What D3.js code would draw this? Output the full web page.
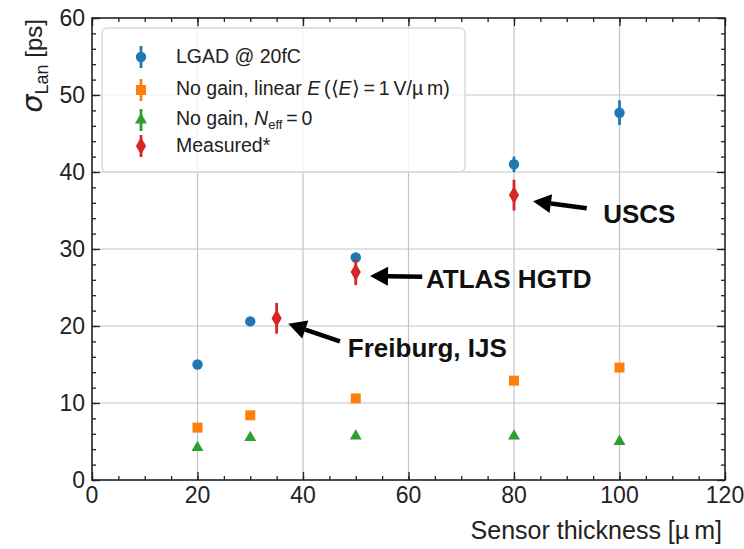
<!DOCTYPE html>
<html>
<head>
<meta charset="utf-8">
<script src="https://cdn.jsdelivr.net/npm/d3@7"></script>
<style>
  body { margin: 0; background: #fff; }
  svg { font-family: "Liberation Sans", Arial, sans-serif; }
</style>
</head>
<body>
<div id="app"></div>
<script>
// sensor thickness [um] and sigma_Lan [ps]
var lgadX = [20, 30, 50, 80, 100];
var lgadY = [15.0, 20.6, 28.9, 41.0, 47.7];
var lgadErr = [0.3, 0.4, 0.6, 1.0, 1.6];

var linearX = [20, 30, 50, 80, 100];
var linearY = [6.8, 8.4, 10.6, 12.9, 14.6];

var neffX = [20, 30, 50, 80, 100];
var neffY = [4.2, 5.5, 5.7, 5.7, 5.0];

var measX = [35, 50, 80];
var measY = [21.0, 27.0, 37.0];
var measErr = [2.0, 1.7, 2.0];

var xTicks = [0, 20, 40, 60, 80, 100, 120];
var yTicks = [0, 10, 20, 30, 40, 50, 60];

var notes = [
    { text: 'USCS', tx: 96.9, ty: 33.4, x0: 93.8, y0: 35.3, x1: 83.6, y1: 36.2 },
    { text: 'ATLAS HGTD', tx: 63.3, ty: 25.0, x0: 62.6, y0: 26.4, x1: 52.7, y1: 26.5 },
    { text: 'Freiburg, IJS', tx: 48.5, ty: 16.0, x0: 47.0, y0: 18.0, x1: 37.2, y1: 20.3 }
];

var colors = { blue: '#1f77b4', orange: '#ff7f0e', green: '#2ca02c', red: '#d62728' };

var W = 744, H = 549;
var pLeft = 92, pRight = 725, pTop = 18, pBottom = 480;

var x = d3.scaleLinear().domain([0, 120]).range([pLeft, pRight]);
var y = d3.scaleLinear().domain([0, 60]).range([pBottom, pTop]);

var svg = d3.select('#app').append('svg')
    .attr('width', W)
    .attr('height', H);

// grid
svg.append('g').selectAll('line')
    .data(xTicks.slice(1, -1)).enter().append('line')
    .attr('x1', function(d) { return x(d); }).attr('x2', function(d) { return x(d); })
    .attr('y1', pTop).attr('y2', pBottom)
    .attr('stroke', '#c4c4c4').attr('stroke-width', 1.2);
svg.append('g').selectAll('line')
    .data(yTicks.slice(1, -1)).enter().append('line')
    .attr('y1', function(d) { return y(d); }).attr('y2', function(d) { return y(d); })
    .attr('x1', pLeft).attr('x2', pRight)
    .attr('stroke', '#c4c4c4').attr('stroke-width', 1.2);

// axes with inward ticks on all sides
function tickAxis(axis, scale, vals, size) {
    return axis(scale).tickValues(vals).tickSize(-size).tickFormat('');
}
var xMinor = d3.range(0, 121, 5), yMinor = d3.range(0, 61, 2);

var axes = svg.append('g').attr('class', 'axes');
axes.append('g').attr('transform', 'translate(0,' + pBottom + ')').call(tickAxis(d3.axisBottom, x, xMinor, 4));
axes.append('g').attr('transform', 'translate(0,' + pBottom + ')').call(tickAxis(d3.axisBottom, x, xTicks, 8));
axes.append('g').attr('transform', 'translate(0,' + pTop + ')').call(tickAxis(d3.axisTop, x, xMinor, 4));
axes.append('g').attr('transform', 'translate(0,' + pTop + ')').call(tickAxis(d3.axisTop, x, xTicks, 8));
axes.append('g').attr('transform', 'translate(' + pLeft + ',0)').call(tickAxis(d3.axisLeft, y, yMinor, 4));
axes.append('g').attr('transform', 'translate(' + pLeft + ',0)').call(tickAxis(d3.axisLeft, y, yTicks, 8));
axes.append('g').attr('transform', 'translate(' + pRight + ',0)').call(tickAxis(d3.axisRight, y, yMinor, 4));
axes.append('g').attr('transform', 'translate(' + pRight + ',0)').call(tickAxis(d3.axisRight, y, yTicks, 8));
axes.selectAll('.domain').remove();
axes.selectAll('text').remove();
axes.selectAll('line').attr('stroke', '#222').attr('stroke-width', 1.3);
svg.append('rect')
    .attr('x', pLeft).attr('y', pTop)
    .attr('width', pRight - pLeft).attr('height', pBottom - pTop)
    .attr('fill', 'none').attr('stroke', '#222').attr('stroke-width', 1.6);

// tick labels
svg.append('g').selectAll('text')
    .data(xTicks).enter().append('text')
    .attr('x', function(d) { return x(d); })
    .attr('y', 503)
    .attr('text-anchor', 'middle')
    .attr('font-size', 23).attr('fill', '#222')
    .text(function(d) { return d; });
svg.append('g').selectAll('text')
    .data(yTicks).enter().append('text')
    .attr('x', 85)
    .attr('y', function(d) { return y(d) + 8; })
    .attr('text-anchor', 'end')
    .attr('font-size', 23).attr('fill', '#222')
    .text(function(d) { return d; });

// axis titles
svg.append('text')
    .attr('x', 722).attr('y', 539)
    .attr('text-anchor', 'end')
    .attr('font-size', 25).attr('fill', '#222')
    .text('Sensor thickness [\u00b5\u2009m]');

var yl = svg.append('text')
    .attr('transform', 'translate(42,19) rotate(-90)')
    .attr('text-anchor', 'end')
    .attr('font-size', 24).attr('fill', '#222');
yl.append('tspan').attr('font-style', 'italic').attr('font-size', 29).attr('font-family', 'DejaVu Sans').text('\u03c3');
yl.append('tspan').attr('font-size', 18).attr('dy', 6).text('Lan');
yl.append('tspan').attr('dy', -6).text(' [ps]');

// markers
var sym = {
    circle: d3.symbol().type(d3.symbolCircle).size(85),
    square: d3.symbol().type(d3.symbolSquare).size(100),
    triangle: d3.symbol().type(d3.symbolTriangle).size(62),
    diamond: d3.symbol().type(d3.symbolDiamond).size(90)
};

function errBars(g, xs, ys, errs, color) {
    g.selectAll('line.eb').data(xs).enter().append('line')
        .attr('x1', function(d) { return x(d); })
        .attr('x2', function(d) { return x(d); })
        .attr('y1', function(d, i) { return y(ys[i] - errs[i]); })
        .attr('y2', function(d, i) { return y(ys[i] + errs[i]); })
        .attr('stroke', color).attr('stroke-width', 2.8);
}
function points(g, xs, ys, shape, color) {
    g.selectAll('path.pt').data(xs).enter().append('path')
        .attr('d', sym[shape])
        .attr('transform', function(d, i) { return 'translate(' + x(d) + ',' + y(ys[i]) + ')'; })
        .attr('fill', color);
}

var data = svg.append('g');
var gB = data.append('g'); errBars(gB, lgadX, lgadY, lgadErr, colors.blue); points(gB, lgadX, lgadY, 'circle', colors.blue);
var gO = data.append('g'); points(gO, linearX, linearY, 'square', colors.orange);
var gG = data.append('g'); points(gG, neffX, neffY, 'triangle', colors.green);
var gR = data.append('g'); errBars(gR, measX, measY, measErr, colors.red); points(gR, measX, measY, 'diamond', colors.red);

// legend
var leg = svg.append('g');
leg.append('rect')
    .attr('x', 102).attr('y', 28).attr('width', 363).attr('height', 144)
    .attr('rx', 5)
    .attr('fill', 'rgba(255,255,255,0.82)').attr('stroke', '#d8d8d8').attr('stroke-width', 1.3);

var legRows = [
    { y: 57, shape: 'circle', color: colors.blue },
    { y: 90, shape: 'square', color: colors.orange },
    { y: 120, shape: 'triangle', color: colors.green },
    { y: 146, shape: 'diamond', color: colors.red }
];
legRows.forEach(function(r) {
    leg.append('line')
        .attr('x1', 141).attr('x2', 141).attr('y1', r.y - 11).attr('y2', r.y + 11)
        .attr('stroke', r.color).attr('stroke-width', 2.8);
    leg.append('path').attr('d', sym[r.shape])
        .attr('transform', 'translate(141,' + r.y + ')')
        .attr('fill', r.color);
});

function legText(yy) {
    return leg.append('text').attr('x', 176).attr('y', yy + 7)
        .attr('font-size', 19.5).attr('fill', '#222');
}
legText(56).text('LGAD @ 20fC');
var t2 = legText(88);
t2.append('tspan').text('No gain, linear ');
t2.append('tspan').attr('font-style', 'italic').text('E');
t2.append('tspan').text('\u2009(\u27e8');
t2.append('tspan').attr('font-style', 'italic').text('E');
t2.append('tspan').text('\u27e9\u2009=\u20091\u2009V/\u00b5\u2009m)');
var t3 = legText(118);
t3.append('tspan').text('No gain, ');
t3.append('tspan').attr('font-style', 'italic').text('N');
t3.append('tspan').attr('font-size', 13).attr('dy', 4).text('eff');
t3.append('tspan').attr('dy', -4).text('\u2009=\u20090');
legText(145).text('Measured*');

// annotations
var ann = svg.append('g');
notes.forEach(function(n) {
    var x0 = x(n.x0), y0 = y(n.y0), x1 = x(n.x1), y1 = y(n.y1);
    var ang = Math.atan2(y1 - y0, x1 - x0);
    var hl = 18, hw = 9.5;
    var bx = x1 - hl * Math.cos(ang), by = y1 - hl * Math.sin(ang);
    ann.append('line')
        .attr('x1', x0).attr('y1', y0).attr('x2', bx).attr('y2', by)
        .attr('stroke', '#000').attr('stroke-width', 4.5);
    ann.append('path')
        .attr('d', 'M' + x1 + ',' + y1 +
            'L' + (bx + hw * Math.sin(ang)) + ',' + (by - hw * Math.cos(ang)) +
            'L' + (bx - hw * Math.sin(ang)) + ',' + (by + hw * Math.cos(ang)) + 'Z')
        .attr('fill', '#000');
    ann.append('text')
        .attr('x', x(n.tx)).attr('y', y(n.ty))
        .attr('font-size', 26).attr('font-weight', 'bold').attr('fill', '#111')
        .text(n.text);
});
</script>
</body>
</html>
